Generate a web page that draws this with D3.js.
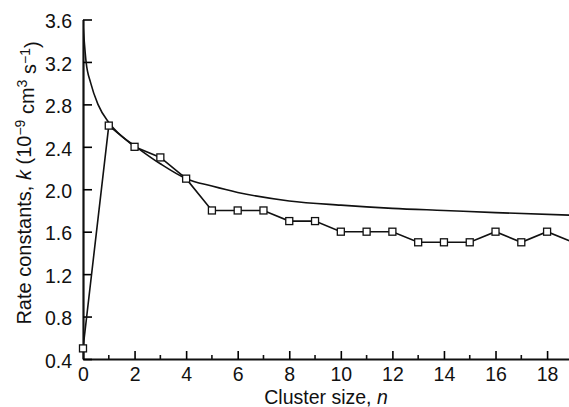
<!DOCTYPE html>
<html>
<head>
<meta charset="utf-8">
<script src="https://cdn.jsdelivr.net/npm/d3@7"></script>
<style>
  body { margin: 0; background: #fff; }
  text { font-family: "Liberation Sans", Arial, sans-serif; fill: #111; }
</style>
</head>
<body>
<svg id="chart" width="569" height="407"></svg>
<script>
// measured rate constants per cluster size
var clusterSizes = [0, 1, 2, 3, 4, 5, 6, 7, 8, 9, 10, 11, 12, 13, 14, 15, 16, 17, 18, 19];
var rateValues = [0.5, 2.6, 2.4, 2.3, 2.1, 1.8, 1.8, 1.8, 1.7, 1.7, 1.6, 1.6, 1.6, 1.5, 1.5, 1.5, 1.6, 1.5, 1.6, 1.5];

// smooth curve
var curveN = [0, 0.12, 0.3, 0.58, 1, 1.5, 2, 3, 4, 5, 6, 8, 10, 12, 14, 16, 19];
var curveK = [3.55, 3.2, 3.0, 2.8, 2.63, 2.5, 2.41, 2.24, 2.1, 2.03, 1.97, 1.89, 1.85, 1.82, 1.8, 1.78, 1.755];

var yTicks = [0.4, 0.8, 1.2, 1.6, 2.0, 2.4, 2.8, 3.2, 3.6];
var xMajorTicks = [0, 2, 4, 6, 8, 10, 12, 14, 16, 18];
var xMinorTicks = [1, 3, 5, 7, 9, 11, 13, 15, 17];

(function () {
    var plotLeft = 83;
    var plotRight = 569;
    var plotTop = 19.5;
    var plotBottom = 359;

    var svg = d3.select('#chart');

    var x = d3.scaleLinear().domain([0, 18.85]).range([plotLeft, plotRight]);
    var y = d3.scaleLinear().domain([0.4, 3.6]).range([plotBottom, plotTop]);

    svg.append('clipPath').attr('id', 'plotClip')
        .append('rect')
        .attr('x', plotLeft).attr('y', 0)
        .attr('width', plotRight - plotLeft).attr('height', plotBottom);

    // axes
    var xAxis = d3.axisBottom(x)
        .tickValues(xMajorTicks)
        .tickSizeInner(-8)
        .tickSizeOuter(0)
        .tickPadding(8)
        .tickFormat(d3.format('d'));

    var gx = svg.append('g')
        .attr('transform', 'translate(0,' + plotBottom + ')')
        .call(xAxis);

    gx.selectAll('.tick line').attr('stroke-width', 1.6);

    gx.selectAll('.minor')
        .data(xMinorTicks)
        .enter().append('line')
        .attr('x1', function (d) { return x(d); })
        .attr('x2', function (d) { return x(d); })
        .attr('y1', 0).attr('y2', -4)
        .attr('stroke', '#111').attr('stroke-width', 1.6);

    var yAxis = d3.axisLeft(y)
        .tickValues(yTicks)
        .tickSizeInner(-9)
        .tickSizeOuter(0)
        .tickPadding(11)
        .tickFormat(d3.format('.1f'));

    var gy = svg.append('g')
        .attr('transform', 'translate(' + plotLeft + ',0)')
        .call(yAxis);

    gy.selectAll('.tick line').attr('stroke-width', 1.6);

    svg.selectAll('.domain').attr('stroke', '#111').attr('stroke-width', 2.2);
    svg.selectAll('.tick text').style('font-size', '19.5px').attr('fill', '#111');
    gy.selectAll('.tick text').attr('dy', '0.42em');

    // smooth fitted curve
    var smoothLine = d3.line()
        .x(function (d) { return x(d[0]); })
        .y(function (d) { return y(d[1]); })
        .curve(d3.curveMonotoneX);

    svg.append('path')
        .datum(d3.zip(curveN, curveK))
        .attr('clip-path', 'url(#plotClip)')
        .attr('d', smoothLine)
        .attr('fill', 'none')
        .attr('stroke', '#111')
        .attr('stroke-width', 1.6);

    // measured series
    var dataLine = d3.line()
        .x(function (d) { return x(d[0]); })
        .y(function (d) { return y(d[1]); });

    var pts = d3.zip(clusterSizes, rateValues);

    svg.append('path')
        .datum(pts)
        .attr('clip-path', 'url(#plotClip)')
        .attr('d', dataLine)
        .attr('fill', 'none')
        .attr('stroke', '#111')
        .attr('stroke-width', 1.6);

    var sq = 7;
    svg.append('g').selectAll('rect')
        .data(pts.filter(function (d) { return x(d[0]) <= plotRight; }))
        .enter().append('rect')
        .attr('x', function (d) { return x(d[0]) - sq / 2; })
        .attr('y', function (d) { return y(d[1]) - sq / 2; })
        .attr('width', sq).attr('height', sq)
        .attr('fill', '#fff')
        .attr('stroke', '#111')
        .attr('stroke-width', 1.3);

    // axis titles
    var xt = svg.append('text')
        .attr('x', 326)
        .attr('y', 404)
        .attr('text-anchor', 'middle')
        .style('font-size', '19.5px');
    xt.append('tspan').text('Cluster size, ');
    xt.append('tspan').style('font-style', 'italic').text('n');

    var yt = svg.append('text')
        .attr('transform', 'translate(31,183) rotate(-90)')
        .attr('text-anchor', 'middle')
        .style('font-size', '20px');
    yt.append('tspan').text('Rate constants, ');
    yt.append('tspan').style('font-style', 'italic').text('k');
    yt.append('tspan').text(' (10');
    yt.append('tspan').attr('dy', '-0.45em').style('font-size', '14px').text('\u22129');
    yt.append('tspan').attr('dy', '0.45em').text(' cm');
    yt.append('tspan').attr('dy', '-0.45em').style('font-size', '14px').text('3');
    yt.append('tspan').attr('dy', '0.45em').text(' s');
    yt.append('tspan').attr('dy', '-0.45em').style('font-size', '14px').text('\u22121');
    yt.append('tspan').attr('dy', '0.45em').text(')');
})();
</script>
</body>
</html>
